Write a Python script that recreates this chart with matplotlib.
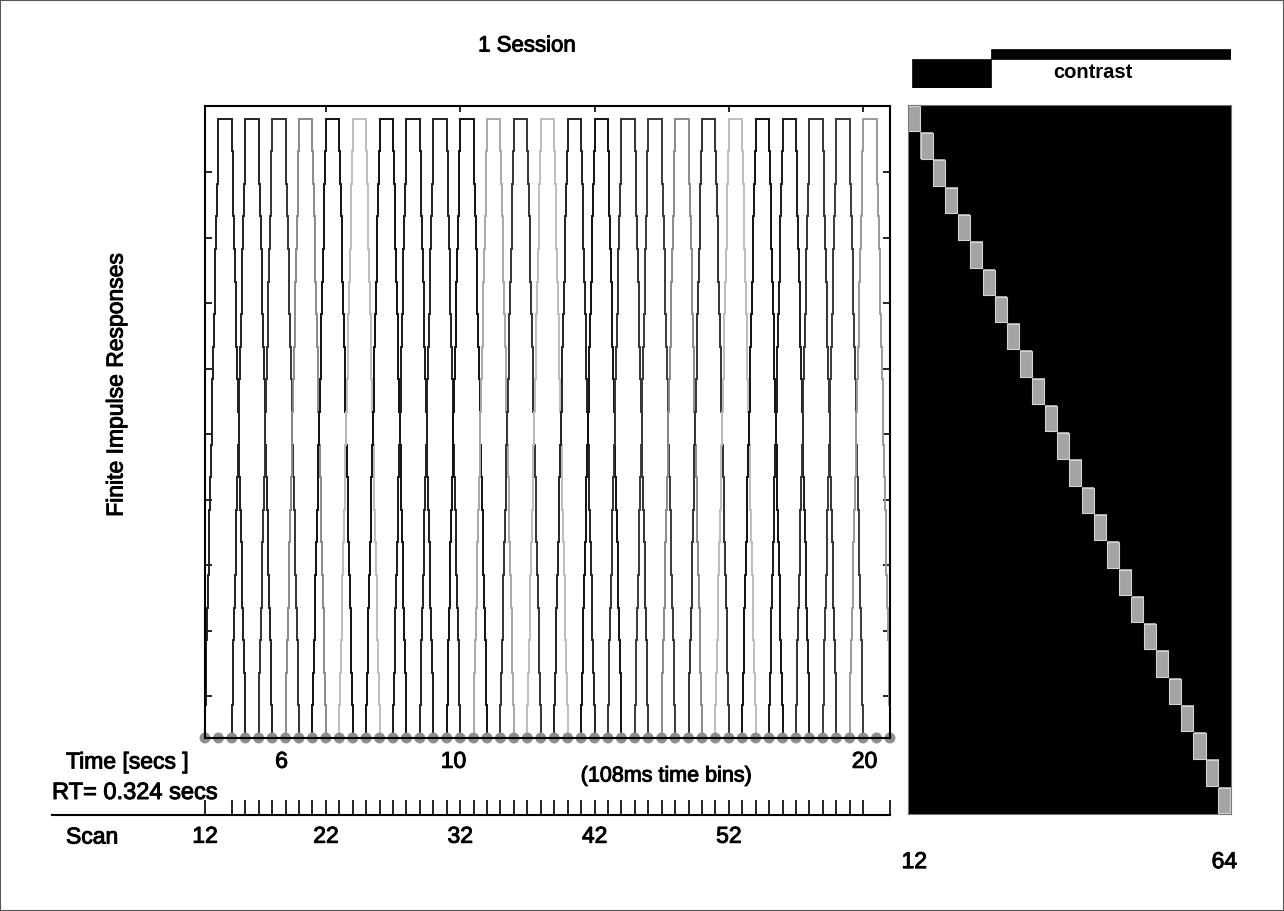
import numpy as np
import matplotlib
matplotlib.use("Agg")
import matplotlib.pyplot as plt
import matplotlib.patheffects as pe
from matplotlib.colors import ListedColormap
from matplotlib.patches import Rectangle

# ---------------- data ----------------
RT = 0.324                       # seconds per scan
scan_range = (13, 64)            # scans shown on the time axis
# onset (scan) of the flat top of each finite-impulse-response bump
pulse_onsets = [14, 16, 18, 20, 22, 24, 26, 28, 30, 32, 34, 36, 38,
                40, 42, 44, 46, 48, 50, 52, 54, 56, 58, 60, 62]
pulse_grays = ["#1e1e1e", "#222222", "#333333", "#8a8a8a", "#111111",
               "#bdbdbd", "#111111", "#1a1a1a", "#222222", "#111111",
               "#a8a8a8", "#333333", "#bdbdbd", "#222222", "#111111",
               "#333333", "#3a3a3a", "#8a8a8a", "#333333", "#bdbdbd",
               "#111111", "#1a1a1a", "#333333", "#3a3a3a", "#9a9a9a"]
bin_scans = list(range(13, 65))          # 108 ms time bins marked on baseline
fir_levels = [1, 2, 3, 4, 5, 6, 7, 8, 9]  # y ticks
y_base, y_top, y_max = 0.36, 9.82, 10.02
time_labels = ["6", "10", "20"]
time_label_scans = [18.7, 31.5, 62.1]    # where the seconds labels sit
top_ticks = [22, 32, 42, 52, 62]
scan_label_pos = [13, 22, 32, 42, 52]
scan_labels = ["12", "22", "32", "42", "52"]
scan_minor = list(range(15, 63)) + [64]
n_fir = 26
design_labels = ["12", "64"]
contrast_weights = [-3, 1]
contrast_edges = [-0.2, 6.2, 25.55]

# ---------------- figure ----------------
W, H, DPI = 1284, 911, 100
plt.rcParams["font.family"] = ["Liberation Sans", "DejaVu Sans"]
fig = plt.figure(figsize=(W / DPI, H / DPI), dpi=DPI)
fig.patch.set_facecolor("white")
THICK = [pe.withStroke(linewidth=0.7, foreground="black")]


def px_axes(l, t, r, b):
    return fig.add_axes([l / W, 1 - b / H, (r - l) / W, (b - t) / H])


def stair(x0, x1, y0, y1, n=19):
    ye = np.linspace(y0, y1, n + 1)
    xv = np.linspace(x0, x1, n)
    xs, ys = [], []
    for j in range(n):
        xs += [xv[j], xv[j]]
        ys += [ye[j], ye[j + 1]]
    return xs, ys


# ---- main FIR panel ----
ax = px_axes(205, 105.5, 890, 738)
for on, col in zip(pulse_onsets, pulse_grays):
    lx, ly = stair(on - 1, on, y_base, y_top)
    rx, ry = stair(on + 1, on + 2, y_top, y_base)
    xs = lx + [on, on + 1] + rx
    ys = ly + [y_top, y_top] + ry
    ax.plot(xs, ys, color=col, lw=1.4, solid_joinstyle="miter", zorder=2)

ax.scatter(bin_scans, [y_base] * len(bin_scans), s=62, color="#8e8e8e",
           edgecolors="none", zorder=2.2, clip_on=False)

ax.set_xlim(*scan_range)
ax.set_ylim(y_base, y_max)
for s in ax.spines.values():
    s.set_linewidth(1.5)
    s.set_color("black")
ax.set_yticks(fir_levels)
ax.tick_params(axis="y", which="both", direction="in", length=5, width=1.2,
               left=True, right=True, labelleft=False)
ax.set_xticks(time_label_scans)
ax.set_xticklabels(time_labels, fontsize=16.5)
ax.tick_params(axis="x", length=0, pad=8.5)
for lab in ax.get_xticklabels():
    lab.set_path_effects(THICK)

top = ax.secondary_xaxis("top")
top.set_xticks(top_ticks)
top.tick_params(direction="in", length=5, width=1.2, labeltop=False)
top.spines["top"].set_visible(False)

# ---- scan axis ----
x0_px = 52
sax = px_axes(x0_px, 790, 890, 815)
sax.set_xlim(scan_range[0] - (205 - x0_px) / (685 / (scan_range[1] - scan_range[0])),
             scan_range[1])
sax.set_ylim(0, 1)
sax.patch.set_alpha(0)
for k in ("left", "right", "top"):
    sax.spines[k].set_visible(False)
sax.spines["bottom"].set_linewidth(1.5)
sax.set_yticks([])
sax.set_xticks(scan_label_pos)
sax.set_xticklabels(scan_labels, fontsize=16.5)
sax.set_xticks(scan_minor, minor=True)
sax.tick_params(axis="x", which="both", direction="in", length=10.5,
                width=1.2, pad=7)
for lab in sax.get_xticklabels():
    lab.set_path_effects(THICK)

# ---- design / FIR matrix ----
iax = px_axes(908, 105, 1230.5, 814)
iax.imshow(np.eye(n_fir), cmap=ListedColormap(["black", "#a4a4a4"]),
           aspect="auto", interpolation="nearest", vmin=0, vmax=1)
cols = np.arange(n_fir)
iax.bar(cols, 0.93, bottom=cols - 0.465, width=0.97, fill=False,
        edgecolor="#d4d4d4", linewidth=0.8)
iax.set_xlim(-0.5, n_fir - 0.5)
iax.set_ylim(n_fir - 0.5, -0.5)
for s in iax.spines.values():
    s.set_color("#777777")
    s.set_linewidth(0.8)
iax.set_yticks([])
iax.set_xticks([0, n_fir - 1])
iax.set_xticklabels(design_labels, fontsize=16.5)
iax.tick_params(axis="x", length=0, pad=26)
for lab in iax.get_xticklabels():
    lab.set_path_effects(THICK)

# ---- contrast bar ----
cax = px_axes(908, 49, 1230.5, 88)
cax.bar(contrast_edges[:-1], contrast_weights, width=np.diff(contrast_edges),
        align="edge", color="black", edgecolor="black", linewidth=0.5)
cax.set_xlim(-0.5, n_fir - 0.5)
cax.set_ylim(-3, 1)
cax.axis("off")

# ---- texts ----
def ftext(x, y, s, thick=True, **kw):
    t = fig.text(x / W, 1 - y / H, s, **kw)
    if thick:
        t.set_path_effects(THICK)

ftext(527, 46, "1 Session", fontsize=16, ha="center", va="center")
ftext(1093, 73, "contrast", thick=False, fontsize=14.5, fontweight="bold",
      ha="center", va="center")
ftext(116, 385, "Finite Impulse Responses", fontsize=16.5, rotation=90,
      ha="center", va="center")
ftext(66, 762, "Time [secs ]", fontsize=16.5, ha="left", va="center")
ftext(52, 793, "RT= 0.324 secs", fontsize=17, ha="left", va="center")
ftext(66, 837, "Scan", fontsize=16.5, ha="left", va="center")
ftext(666, 776, "(108ms time bins)", fontsize=15.5, ha="center", va="center")

fig.patches.append(Rectangle((0, 0), 1, 1, transform=fig.transFigure,
                             fill=False, edgecolor="#555555", linewidth=1.5))

fig.savefig("out.png", dpi=DPI)
